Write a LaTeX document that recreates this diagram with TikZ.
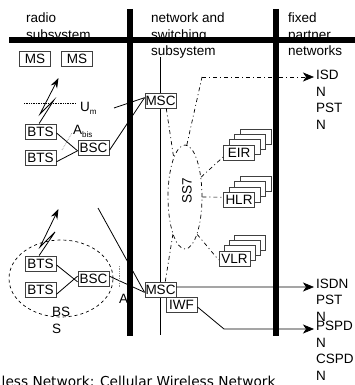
\documentclass[tikz,border=0pt]{standalone}
\usepackage{fontspec}
\setmainfont{Liberation Sans}
\newfontfamily\captionfont{DejaVu Sans}
\usetikzlibrary{shapes.geometric, arrows.meta}
\tikzset{
    netbox/.style={rectangle, draw=black!75, fill=white, line width=0.9pt, minimum width=31pt, minimum height=15pt, inner sep=0pt, font=\fontsize{13.5}{16.5}\selectfont},
    textblock/.style={anchor=base west, align=left, inner sep=0pt, font=\fontsize{13.5}{16.5}\selectfont},
    barrier/.style={line width=6pt},
    link/.style={line width=0.8pt},
    radio/.style={line width=0.8pt, -{Stealth[length=10pt, width=7pt]}},
    sig/.style={line width=0.7pt, dash pattern=on 4pt off 3pt on 1pt off 3pt},
    outarrow/.style={-{Stealth[length=11pt, width=9pt, inset=3pt]}},
    iface/.style={black!45, line width=0.7pt, densely dotted}
}
\begin{document}
\begin{tikzpicture}[x=1pt, y=-1pt]
    \useasboundingbox (0,0) rectangle (355,385);

    % column titles
    \node[textblock] (radiotitle) at (26,39.5) {radio\\subsystem};
    \node[textblock] (nettitle) at (151,56) {network and\\switching\\subsystem};
    \node[textblock] (fixedtitle) at (288,56) {fixed\\partner\\networks};

    % subsystem borders
    \draw[barrier] (9,40) -- (355,40);
    \draw[barrier] (129.5,9) -- (129.5,336);
    \draw[barrier] (276,9) -- (276,336);
    \draw[line width=0.8pt] (160.5,57) -- (160.5,335);

    % radio part
    \node[netbox] (ms1) at (35,58.5) {MS};
    \node[netbox] (ms2) at (77,58.5) {MS};
    \node[netbox] (bts1) at (40.5,131.5) {BTS};
    \node[netbox] (bts2) at (40.5,157.5) {BTS};
    \node[netbox] (bsc1) at (93.5,148) {BSC};
    \node[netbox] (bts3) at (40.5,263.5) {BTS};
    \node[netbox] (bts4) at (40.5,290) {BTS};
    \node[netbox] (bsc2) at (93.5,279) {BSC};
    \node[netbox] (msc1) at (160.5,100.5) {MSC};
    \node[netbox] (msc2) at (160.5,289.5) {MSC};
    \node[netbox] (iwf) at (181.5,305) {IWF};

    % databases
    \foreach \db/\px/\py/\name/\off in {eir/239/152.5/EIR/5.5, hlr/239/200/HLR/5.5, vlr/234.5/258.5/VLR/5.2} {
        \foreach \s in {3,2,1}
            \node[netbox] (\db\s) at (\px+\s*\off, \py-\s*5.3) {};
        \node[netbox] (\db) at (\px,\py) {\name};
    }

    % labels
    \node[textblock] (um) at (80,111) {U\raisebox{-3pt}{\fontsize{8}{8}\selectfont m}};
    \node[textblock] (abis) at (73,134) {A\raisebox{-3pt}{\fontsize{8}{8}\selectfont bis}};
    \node[textblock] (alabel) at (119,303) {A};
    \node[textblock] (bsslabel) at (52,333) {BS\\S};
    \node[textblock, rotate=90] (ss7label) at (191.5,204) {SS7};
    \node[textblock] (isdup) at (316,129) {ISD\\N\\PST\\N};
    \node[textblock] (isdlow) at (316,321) {ISDN\\PST\\N};
    \node[textblock] (pspd) at (316,380) {PSPD\\N\\CSPD\\N};
    \node[anchor=base west, inner sep=0pt, font=\captionfont\fontsize{13.7}{16}\selectfont] (caption) at (1.5,386.5) {less Network: Cellular Wireless Network};

    % areas
    \node[ellipse, draw, dashed, line width=0.7pt, minimum width=104pt, minimum height=77pt, inner sep=0pt] (bss) at (61,278.5) {};
    \node[ellipse, draw, sig, minimum width=34pt, minimum height=104pt, inner sep=0pt] (ss7) at (185,197) {};

    % free ends
    \coordinate (umleft) at (24,103.5);
    \coordinate (umright) at (76,103.5);
    \coordinate (umstub) at (114,108);
    \coordinate (astub) at (98,208);
    \coordinate (tipa) at (58.5,78);
    \coordinate (zaga) at (54,100);
    \coordinate (zagb) at (40,114);
    \coordinate (tipb) at (58.5,209);
    \coordinate (zagc) at (55,232);
    \coordinate (zagd) at (40,247);
    \coordinate (bendup) at (202,77);
    \coordinate (isdupend) at (314,77);
    \coordinate (isdlowend) at (314,287);
    \coordinate (iwfbend) at (224,329);
    \coordinate (pspdend) at (314,329);
    \coordinate (abisa) at (62,150);
    \coordinate (abisb) at (72,133);
    \coordinate (aifa) at (119,266);
    \coordinate (aifb) at (119,287);

    \draw[link] (bts1.-5) -- (bsc1.190);
    \draw[link] (bts2.-15) -- (bsc1.190);
    \draw[link] (bts3.-5) -- (bsc2.190);
    \draw[link] (bts4.-15) -- (bsc2.170);
    \draw[link] (bsc1.-8) -- (msc1.170);
    \draw[link] (umstub) -- (msc1.170);
    \draw[link] (bsc2.10) -- (msc2.190);
    \draw[link] (astub) -- (msc2.190);

    \draw[radio] (bts1.100) -- (zaga) -- (zagb) -- (tipa);
    \draw[radio] (bts3.100) -- (zagc) -- (zagd) -- (tipb);

    \draw[densely dotted, line width=0.7pt] (umleft) -- (umright);
    \draw[iface] (abisa) -- (abisb);
    \draw[iface] (aifa) -- (aifb);

    \draw[sig] (msc1.-54) -- (ss7.106);
    \draw[sig] (msc2.59) -- (ss7.252);
    \draw[sig] (ss7.88) -- (bendup);
    \draw[sig, outarrow] (bendup) -- (isdupend);
    \draw[sig] (ss7.51) -- (eir.196);
    \draw[sig] (ss7.0) -- (hlr.170);
    \draw[sig] (ss7.-72) -- (vlr.185);

    \draw[link, outarrow] (msc2.9) -- (isdlowend);
    \draw[link, outarrow] (iwf.-7) -- (iwfbend) -- (pspdend);
\end{tikzpicture}
\end{document}
